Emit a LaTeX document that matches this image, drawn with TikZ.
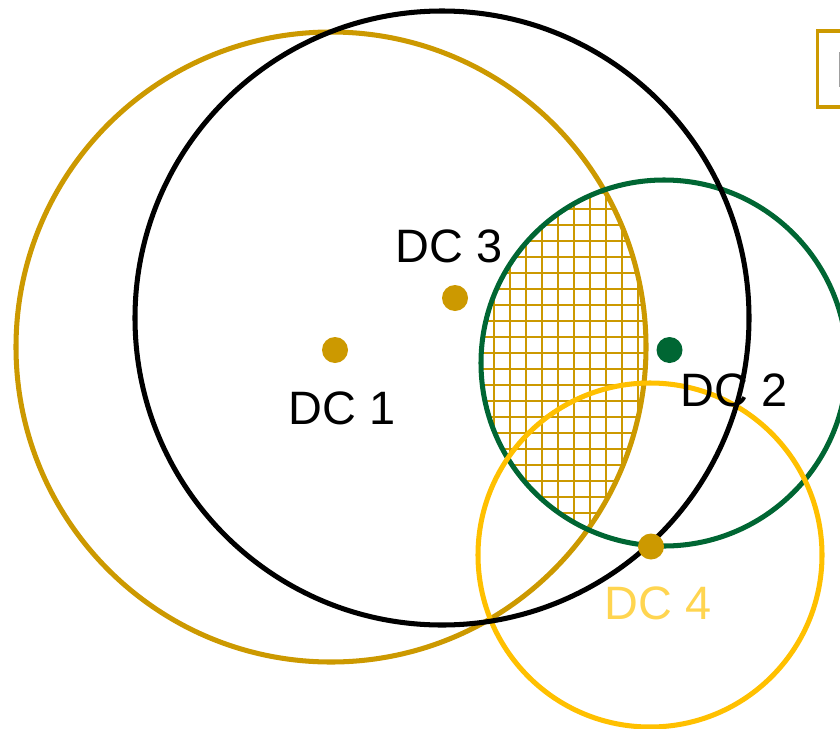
\documentclass[tikz,border=0pt]{standalone}
\usepackage{fontspec}
\setmainfont{Liberation Sans}
\definecolor{dcgold}{RGB}{204,153,0}
\definecolor{dcgreen}{RGB}{0,102,51}
\definecolor{dcyellow}{RGB}{255,192,0}
\definecolor{dclight}{RGB}{255,213,80}
\definecolor{dcgrey}{RGB}{160,160,160}
\begin{document}
\begin{tikzpicture} [x = 0.03cm, y = -0.03cm,
	ring/.style = {line width = 4.3pt},
	dot/.style = {circle, inner sep = 0pt, minimum size = 0.78cm},
	lbl/.style = {font = \fontsize{40}{45}\selectfont, inner sep = 0pt}]
	\useasboundingbox (0,0) rectangle (840,729);
	% shaded overlap of DC 1 and DC 2
	\begin{scope}
	\clip (331,347) circle (315);
	\clip (664,363) circle (183);
	\foreach \gx in {0,...,9}
		\draw [dcgold, line width = 1.3pt] (494+16*\gx,170) -- (494+16*\gx,560);
	\foreach \gy in {-1,...,20}
		\draw [dcgold, line width = 1.3pt] (470,209+16*\gy) -- (660,209+16*\gy);
	\end{scope}
	\draw [ring, dcgold] (331,347) circle (315);
	\draw [ring, dcgreen] (664,363) circle (183);
	\draw [ring, dcyellow] (650,555) circle (172);
	\draw [ring, black] (442,318) circle (307);
	% legend box, cut off at the edge
	\draw [dcgold, line width = 3pt] (817.5,31) rectangle (870,107);
	\draw [dcgrey, line width = 1.6pt] (839.6,52) -- (839.6,87);
	\node [dot, fill = dcgold] (pone) at (335,350) {};
	\node [dot, fill = dcgold] (pthree) at (455,298) {};
	\node [dot, fill = dcgreen] (ptwo) at (669.5,350) {};
	\node [dot, fill = dcgold] (pfour) at (651,546.5) {};
	\node [lbl] (tone) at (342,408) {DC 1};
	\node [lbl] (ttwo) at (734,390) {DC 2};
	\node [lbl] (tthree) at (449,246) {DC 3};
	\node [lbl, text = dclight] (tfour) at (658,603) {DC 4};
\end{tikzpicture}
\end{document}
